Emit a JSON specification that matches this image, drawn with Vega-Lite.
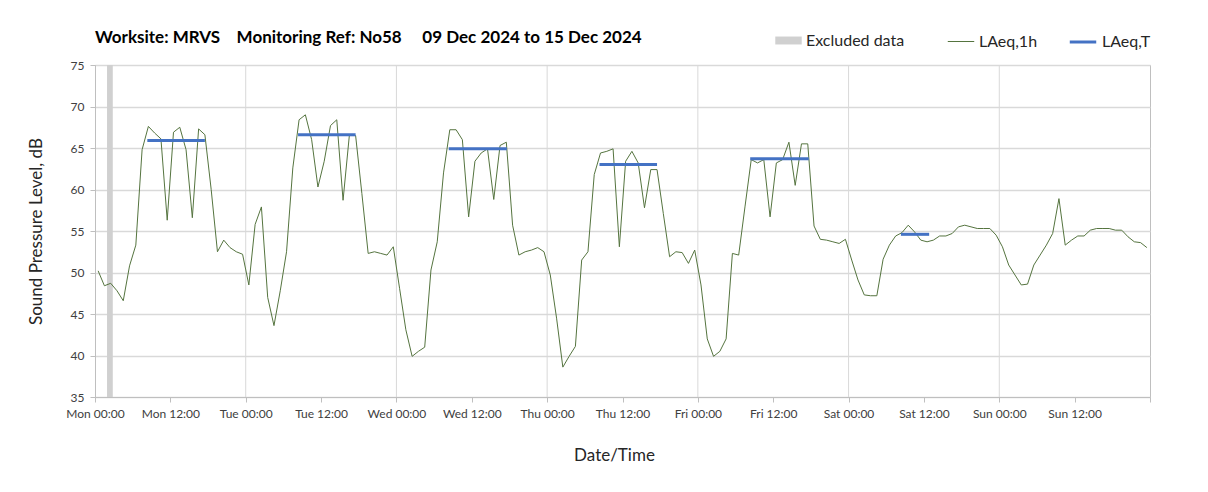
{
  "$schema": "https://vega.github.io/schema/vega-lite/v6.json",
  "width": 1055,
  "height": 332,
  "autosize": "none",
  "padding": {"left": 95, "top": 65, "right": 58, "bottom": 95},
  "background": "white",
  "title": {
    "text": "Worksite: MRVS\u00a0\u00a0\u00a0 Monitoring Ref: No58\u00a0\u00a0\u00a0\u00a0 09 Dec 2024 to 15 Dec 2024",
    "anchor": "start",
    "frame": "group",
    "fontSize": 17,
    "fontWeight": "bold",
    "color": "#000000",
    "offset": -20
  },
  "datasets": {
    "days": [
      {"d": "2024-12-10T00:00"}, {"d": "2024-12-11T00:00"}, {"d": "2024-12-12T00:00"},
      {"d": "2024-12-13T00:00"}, {"d": "2024-12-14T00:00"}, {"d": "2024-12-15T00:00"}
    ],
    "excluded": [
      {"start": "2024-12-09T01:55", "end": "2024-12-09T02:50", "series": "Excluded data"}
    ],
    "laeqT": [
      {"start": "2024-12-09T08:20", "end": "2024-12-09T17:30", "v": 65.9, "series": "LAeq,T"},
      {"start": "2024-12-10T08:20", "end": "2024-12-10T17:30", "v": 66.6, "series": "LAeq,T"},
      {"start": "2024-12-11T08:20", "end": "2024-12-11T17:35", "v": 64.9, "series": "LAeq,T"},
      {"start": "2024-12-12T08:20", "end": "2024-12-12T17:30", "v": 63.0, "series": "LAeq,T"},
      {"start": "2024-12-13T08:20", "end": "2024-12-13T17:40", "v": 63.7, "series": "LAeq,T"},
      {"start": "2024-12-14T08:20", "end": "2024-12-14T12:50", "v": 54.6, "series": "LAeq,T"}
    ],
    "laeq1h": [
      {"t": "2024-12-09T00:30", "v": 50.2, "series": "LAeq,1h"},
      {"t": "2024-12-09T01:30", "v": 48.4, "series": "LAeq,1h"},
      {"t": "2024-12-09T02:30", "v": 48.7, "series": "LAeq,1h"},
      {"t": "2024-12-09T03:30", "v": 47.8, "series": "LAeq,1h"},
      {"t": "2024-12-09T04:30", "v": 46.6, "series": "LAeq,1h"},
      {"t": "2024-12-09T05:30", "v": 50.8, "series": "LAeq,1h"},
      {"t": "2024-12-09T06:30", "v": 53.3, "series": "LAeq,1h"},
      {"t": "2024-12-09T07:30", "v": 64.8, "series": "LAeq,1h"},
      {"t": "2024-12-09T08:30", "v": 67.6, "series": "LAeq,1h"},
      {"t": "2024-12-09T09:30", "v": 66.8, "series": "LAeq,1h"},
      {"t": "2024-12-09T10:30", "v": 66.1, "series": "LAeq,1h"},
      {"t": "2024-12-09T11:30", "v": 56.3, "series": "LAeq,1h"},
      {"t": "2024-12-09T12:30", "v": 66.9, "series": "LAeq,1h"},
      {"t": "2024-12-09T13:30", "v": 67.5, "series": "LAeq,1h"},
      {"t": "2024-12-09T14:30", "v": 64.8, "series": "LAeq,1h"},
      {"t": "2024-12-09T15:30", "v": 56.6, "series": "LAeq,1h"},
      {"t": "2024-12-09T16:30", "v": 67.3, "series": "LAeq,1h"},
      {"t": "2024-12-09T17:30", "v": 66.6, "series": "LAeq,1h"},
      {"t": "2024-12-09T18:30", "v": 60.0, "series": "LAeq,1h"},
      {"t": "2024-12-09T19:30", "v": 52.5, "series": "LAeq,1h"},
      {"t": "2024-12-09T20:30", "v": 53.9, "series": "LAeq,1h"},
      {"t": "2024-12-09T21:30", "v": 53.0, "series": "LAeq,1h"},
      {"t": "2024-12-09T22:30", "v": 52.5, "series": "LAeq,1h"},
      {"t": "2024-12-09T23:30", "v": 52.2, "series": "LAeq,1h"},
      {"t": "2024-12-10T00:30", "v": 48.5, "series": "LAeq,1h"},
      {"t": "2024-12-10T01:30", "v": 55.8, "series": "LAeq,1h"},
      {"t": "2024-12-10T02:30", "v": 57.9, "series": "LAeq,1h"},
      {"t": "2024-12-10T03:30", "v": 47.0, "series": "LAeq,1h"},
      {"t": "2024-12-10T04:30", "v": 43.6, "series": "LAeq,1h"},
      {"t": "2024-12-10T05:30", "v": 47.8, "series": "LAeq,1h"},
      {"t": "2024-12-10T06:30", "v": 52.5, "series": "LAeq,1h"},
      {"t": "2024-12-10T07:30", "v": 62.6, "series": "LAeq,1h"},
      {"t": "2024-12-10T08:30", "v": 68.4, "series": "LAeq,1h"},
      {"t": "2024-12-10T09:30", "v": 69.0, "series": "LAeq,1h"},
      {"t": "2024-12-10T10:30", "v": 66.0, "series": "LAeq,1h"},
      {"t": "2024-12-10T11:30", "v": 60.3, "series": "LAeq,1h"},
      {"t": "2024-12-10T12:30", "v": 63.4, "series": "LAeq,1h"},
      {"t": "2024-12-10T13:30", "v": 67.7, "series": "LAeq,1h"},
      {"t": "2024-12-10T14:30", "v": 68.4, "series": "LAeq,1h"},
      {"t": "2024-12-10T15:30", "v": 58.7, "series": "LAeq,1h"},
      {"t": "2024-12-10T16:30", "v": 66.5, "series": "LAeq,1h"},
      {"t": "2024-12-10T17:30", "v": 66.5, "series": "LAeq,1h"},
      {"t": "2024-12-10T18:30", "v": 59.5, "series": "LAeq,1h"},
      {"t": "2024-12-10T19:30", "v": 52.3, "series": "LAeq,1h"},
      {"t": "2024-12-10T20:30", "v": 52.5, "series": "LAeq,1h"},
      {"t": "2024-12-10T21:30", "v": 52.3, "series": "LAeq,1h"},
      {"t": "2024-12-10T22:30", "v": 52.1, "series": "LAeq,1h"},
      {"t": "2024-12-10T23:30", "v": 53.1, "series": "LAeq,1h"},
      {"t": "2024-12-11T00:30", "v": 48.1, "series": "LAeq,1h"},
      {"t": "2024-12-11T01:30", "v": 43.1, "series": "LAeq,1h"},
      {"t": "2024-12-11T02:30", "v": 39.9, "series": "LAeq,1h"},
      {"t": "2024-12-11T03:30", "v": 40.5, "series": "LAeq,1h"},
      {"t": "2024-12-11T04:30", "v": 41.0, "series": "LAeq,1h"},
      {"t": "2024-12-11T05:30", "v": 50.3, "series": "LAeq,1h"},
      {"t": "2024-12-11T06:30", "v": 53.7, "series": "LAeq,1h"},
      {"t": "2024-12-11T07:30", "v": 62.0, "series": "LAeq,1h"},
      {"t": "2024-12-11T08:30", "v": 67.2, "series": "LAeq,1h"},
      {"t": "2024-12-11T09:30", "v": 67.2, "series": "LAeq,1h"},
      {"t": "2024-12-11T10:30", "v": 66.0, "series": "LAeq,1h"},
      {"t": "2024-12-11T11:30", "v": 56.7, "series": "LAeq,1h"},
      {"t": "2024-12-11T12:30", "v": 63.4, "series": "LAeq,1h"},
      {"t": "2024-12-11T13:30", "v": 64.4, "series": "LAeq,1h"},
      {"t": "2024-12-11T14:30", "v": 64.9, "series": "LAeq,1h"},
      {"t": "2024-12-11T15:30", "v": 58.8, "series": "LAeq,1h"},
      {"t": "2024-12-11T16:30", "v": 65.3, "series": "LAeq,1h"},
      {"t": "2024-12-11T17:30", "v": 65.7, "series": "LAeq,1h"},
      {"t": "2024-12-11T18:30", "v": 55.7, "series": "LAeq,1h"},
      {"t": "2024-12-11T19:30", "v": 52.1, "series": "LAeq,1h"},
      {"t": "2024-12-11T20:30", "v": 52.5, "series": "LAeq,1h"},
      {"t": "2024-12-11T21:30", "v": 52.7, "series": "LAeq,1h"},
      {"t": "2024-12-11T22:30", "v": 53.0, "series": "LAeq,1h"},
      {"t": "2024-12-11T23:30", "v": 52.5, "series": "LAeq,1h"},
      {"t": "2024-12-12T00:30", "v": 49.7, "series": "LAeq,1h"},
      {"t": "2024-12-12T01:30", "v": 44.5, "series": "LAeq,1h"},
      {"t": "2024-12-12T02:30", "v": 38.6, "series": "LAeq,1h"},
      {"t": "2024-12-12T03:30", "v": 39.9, "series": "LAeq,1h"},
      {"t": "2024-12-12T04:30", "v": 41.1, "series": "LAeq,1h"},
      {"t": "2024-12-12T05:30", "v": 51.5, "series": "LAeq,1h"},
      {"t": "2024-12-12T06:30", "v": 52.5, "series": "LAeq,1h"},
      {"t": "2024-12-12T07:30", "v": 61.8, "series": "LAeq,1h"},
      {"t": "2024-12-12T08:30", "v": 64.4, "series": "LAeq,1h"},
      {"t": "2024-12-12T09:30", "v": 64.6, "series": "LAeq,1h"},
      {"t": "2024-12-12T10:30", "v": 64.9, "series": "LAeq,1h"},
      {"t": "2024-12-12T11:30", "v": 53.1, "series": "LAeq,1h"},
      {"t": "2024-12-12T12:30", "v": 63.4, "series": "LAeq,1h"},
      {"t": "2024-12-12T13:30", "v": 64.6, "series": "LAeq,1h"},
      {"t": "2024-12-12T14:30", "v": 63.2, "series": "LAeq,1h"},
      {"t": "2024-12-12T15:30", "v": 57.8, "series": "LAeq,1h"},
      {"t": "2024-12-12T16:30", "v": 62.4, "series": "LAeq,1h"},
      {"t": "2024-12-12T17:30", "v": 62.4, "series": "LAeq,1h"},
      {"t": "2024-12-12T18:30", "v": 57.1, "series": "LAeq,1h"},
      {"t": "2024-12-12T19:30", "v": 51.9, "series": "LAeq,1h"},
      {"t": "2024-12-12T20:30", "v": 52.5, "series": "LAeq,1h"},
      {"t": "2024-12-12T21:30", "v": 52.4, "series": "LAeq,1h"},
      {"t": "2024-12-12T22:30", "v": 51.1, "series": "LAeq,1h"},
      {"t": "2024-12-12T23:30", "v": 52.7, "series": "LAeq,1h"},
      {"t": "2024-12-13T00:30", "v": 48.5, "series": "LAeq,1h"},
      {"t": "2024-12-13T01:30", "v": 42.0, "series": "LAeq,1h"},
      {"t": "2024-12-13T02:30", "v": 39.9, "series": "LAeq,1h"},
      {"t": "2024-12-13T03:30", "v": 40.5, "series": "LAeq,1h"},
      {"t": "2024-12-13T04:30", "v": 42.0, "series": "LAeq,1h"},
      {"t": "2024-12-13T05:30", "v": 52.3, "series": "LAeq,1h"},
      {"t": "2024-12-13T06:30", "v": 52.1, "series": "LAeq,1h"},
      {"t": "2024-12-13T07:30", "v": 57.9, "series": "LAeq,1h"},
      {"t": "2024-12-13T08:30", "v": 63.6, "series": "LAeq,1h"},
      {"t": "2024-12-13T09:30", "v": 63.2, "series": "LAeq,1h"},
      {"t": "2024-12-13T10:30", "v": 63.6, "series": "LAeq,1h"},
      {"t": "2024-12-13T11:30", "v": 56.7, "series": "LAeq,1h"},
      {"t": "2024-12-13T12:30", "v": 63.2, "series": "LAeq,1h"},
      {"t": "2024-12-13T13:30", "v": 63.6, "series": "LAeq,1h"},
      {"t": "2024-12-13T14:30", "v": 65.7, "series": "LAeq,1h"},
      {"t": "2024-12-13T15:30", "v": 60.5, "series": "LAeq,1h"},
      {"t": "2024-12-13T16:30", "v": 65.5, "series": "LAeq,1h"},
      {"t": "2024-12-13T17:30", "v": 65.5, "series": "LAeq,1h"},
      {"t": "2024-12-13T18:30", "v": 55.6, "series": "LAeq,1h"},
      {"t": "2024-12-13T19:30", "v": 54.0, "series": "LAeq,1h"},
      {"t": "2024-12-13T20:30", "v": 53.9, "series": "LAeq,1h"},
      {"t": "2024-12-13T21:30", "v": 53.7, "series": "LAeq,1h"},
      {"t": "2024-12-13T22:30", "v": 53.5, "series": "LAeq,1h"},
      {"t": "2024-12-13T23:30", "v": 54.0, "series": "LAeq,1h"},
      {"t": "2024-12-14T00:30", "v": 51.5, "series": "LAeq,1h"},
      {"t": "2024-12-14T01:30", "v": 49.1, "series": "LAeq,1h"},
      {"t": "2024-12-14T02:30", "v": 47.3, "series": "LAeq,1h"},
      {"t": "2024-12-14T03:30", "v": 47.2, "series": "LAeq,1h"},
      {"t": "2024-12-14T04:30", "v": 47.2, "series": "LAeq,1h"},
      {"t": "2024-12-14T05:30", "v": 51.6, "series": "LAeq,1h"},
      {"t": "2024-12-14T06:30", "v": 53.3, "series": "LAeq,1h"},
      {"t": "2024-12-14T07:30", "v": 54.4, "series": "LAeq,1h"},
      {"t": "2024-12-14T08:30", "v": 54.8, "series": "LAeq,1h"},
      {"t": "2024-12-14T09:30", "v": 55.7, "series": "LAeq,1h"},
      {"t": "2024-12-14T10:30", "v": 54.9, "series": "LAeq,1h"},
      {"t": "2024-12-14T11:30", "v": 53.9, "series": "LAeq,1h"},
      {"t": "2024-12-14T12:30", "v": 53.7, "series": "LAeq,1h"},
      {"t": "2024-12-14T13:30", "v": 53.9, "series": "LAeq,1h"},
      {"t": "2024-12-14T14:30", "v": 54.4, "series": "LAeq,1h"},
      {"t": "2024-12-14T15:30", "v": 54.4, "series": "LAeq,1h"},
      {"t": "2024-12-14T16:30", "v": 54.7, "series": "LAeq,1h"},
      {"t": "2024-12-14T17:30", "v": 55.5, "series": "LAeq,1h"},
      {"t": "2024-12-14T18:30", "v": 55.7, "series": "LAeq,1h"},
      {"t": "2024-12-14T19:30", "v": 55.5, "series": "LAeq,1h"},
      {"t": "2024-12-14T20:30", "v": 55.3, "series": "LAeq,1h"},
      {"t": "2024-12-14T21:30", "v": 55.3, "series": "LAeq,1h"},
      {"t": "2024-12-14T22:30", "v": 55.3, "series": "LAeq,1h"},
      {"t": "2024-12-14T23:30", "v": 54.5, "series": "LAeq,1h"},
      {"t": "2024-12-15T00:30", "v": 53.1, "series": "LAeq,1h"},
      {"t": "2024-12-15T01:30", "v": 50.9, "series": "LAeq,1h"},
      {"t": "2024-12-15T02:30", "v": 49.7, "series": "LAeq,1h"},
      {"t": "2024-12-15T03:30", "v": 48.5, "series": "LAeq,1h"},
      {"t": "2024-12-15T04:30", "v": 48.6, "series": "LAeq,1h"},
      {"t": "2024-12-15T05:30", "v": 50.9, "series": "LAeq,1h"},
      {"t": "2024-12-15T06:30", "v": 52.1, "series": "LAeq,1h"},
      {"t": "2024-12-15T07:30", "v": 53.3, "series": "LAeq,1h"},
      {"t": "2024-12-15T08:30", "v": 54.7, "series": "LAeq,1h"},
      {"t": "2024-12-15T09:30", "v": 58.9, "series": "LAeq,1h"},
      {"t": "2024-12-15T10:30", "v": 53.3, "series": "LAeq,1h"},
      {"t": "2024-12-15T11:30", "v": 53.9, "series": "LAeq,1h"},
      {"t": "2024-12-15T12:30", "v": 54.4, "series": "LAeq,1h"},
      {"t": "2024-12-15T13:30", "v": 54.4, "series": "LAeq,1h"},
      {"t": "2024-12-15T14:30", "v": 55.1, "series": "LAeq,1h"},
      {"t": "2024-12-15T15:30", "v": 55.3, "series": "LAeq,1h"},
      {"t": "2024-12-15T16:30", "v": 55.3, "series": "LAeq,1h"},
      {"t": "2024-12-15T17:30", "v": 55.3, "series": "LAeq,1h"},
      {"t": "2024-12-15T18:30", "v": 55.1, "series": "LAeq,1h"},
      {"t": "2024-12-15T19:30", "v": 55.1, "series": "LAeq,1h"},
      {"t": "2024-12-15T20:30", "v": 54.3, "series": "LAeq,1h"},
      {"t": "2024-12-15T21:30", "v": 53.7, "series": "LAeq,1h"},
      {"t": "2024-12-15T22:30", "v": 53.6, "series": "LAeq,1h"},
      {"t": "2024-12-15T23:30", "v": 53.0, "series": "LAeq,1h"}
    ]
  },
  "layer": [
    {
      "data": {"name": "days"},
      "mark": {"type": "rule", "color": "#d9d9d9", "strokeWidth": 1},
      "encoding": {
        "x": {
          "field": "d",
          "type": "temporal",
          "title": "Date/Time",
          "scale": {
            "domain": [
              {"year": 2024, "month": 12, "date": 9, "hours": 0},
              {"year": 2024, "month": 12, "date": 16, "hours": 0}
            ],
            "nice": false
          },
          "axis": {
            "values": [
              {"year": 2024, "month": 12, "date": 9, "hours": 0},
              {"year": 2024, "month": 12, "date": 9, "hours": 12},
              {"year": 2024, "month": 12, "date": 10, "hours": 0},
              {"year": 2024, "month": 12, "date": 10, "hours": 12},
              {"year": 2024, "month": 12, "date": 11, "hours": 0},
              {"year": 2024, "month": 12, "date": 11, "hours": 12},
              {"year": 2024, "month": 12, "date": 12, "hours": 0},
              {"year": 2024, "month": 12, "date": 12, "hours": 12},
              {"year": 2024, "month": 12, "date": 13, "hours": 0},
              {"year": 2024, "month": 12, "date": 13, "hours": 12},
              {"year": 2024, "month": 12, "date": 14, "hours": 0},
              {"year": 2024, "month": 12, "date": 14, "hours": 12},
              {"year": 2024, "month": 12, "date": 15, "hours": 0},
              {"year": 2024, "month": 12, "date": 15, "hours": 12},
              {"year": 2024, "month": 12, "date": 16, "hours": 0}
            ],
            "labelExpr": "datum.value >= datetime(2024, 11, 16) ? '' : timeFormat(datum.value, '%a %H:%M')",
            "grid": false,
            "domainColor": "#bfbfbf",
            "tickColor": "#bfbfbf",
            "tickSize": 5,
            "labelFontSize": 12,
            "labelColor": "#404040",
            "labelPadding": 6,
            "labelFlush": false,
            "labelOverlap": false,
            "titleFontSize": 17,
            "titleFontWeight": "normal",
            "titleColor": "#262626",
            "titleX": 519,
            "titleY": 50
          }
        }
      }
    },
    {
      "data": {"name": "excluded"},
      "mark": {"type": "rect"},
      "encoding": {
        "x": {"field": "start", "type": "temporal"},
        "x2": {"field": "end"},
        "fill": {
          "field": "series",
          "type": "nominal",
          "scale": {"domain": ["Excluded data"], "range": ["#d0d0d0"]},
          "legend": {
            "title": null,
            "orient": "none",
            "direction": "horizontal",
            "legendX": 680,
            "legendY": -38,
            "padding": 0,
            "symbolType": "M-1,-0.3H1V0.3H-1Z",
            "symbolSize": 700,
            "symbolStrokeWidth": 0,
            "labelFontSize": 16,
            "labelColor": "#262626",
            "labelOffset": 4
          }
        }
      }
    },
    {
      "data": {"name": "laeq1h"},
      "mark": {"type": "line"},
      "encoding": {
        "x": {"field": "t", "type": "temporal"},
        "y": {
          "field": "v",
          "type": "quantitative",
          "title": "Sound Pressure Level, dB",
          "scale": {"domain": [35, 75], "nice": false, "zero": false},
          "axis": {
            "values": [35, 40, 45, 50, 55, 60, 65, 70, 75],
            "grid": true,
            "gridColor": "#d9d9d9",
            "gridWidth": 1.3,
            "domainColor": "#bfbfbf",
            "tickColor": "#bfbfbf",
            "tickSize": 5,
            "labelFontSize": 12,
            "labelColor": "#404040",
            "labelPadding": 6,
            "labelFlush": false,
            "titleFontSize": 17,
            "titleFontWeight": "normal",
            "titleColor": "#262626",
            "titlePadding": 25
          }
        },
        "stroke": {
          "field": "series",
          "type": "nominal",
          "scale": {"domain": ["LAeq,1h", "LAeq,T"], "range": ["#55743f", "#4472c4"]},
          "legend": {
            "title": null,
            "orient": "none",
            "direction": "horizontal",
            "legendX": 852,
            "legendY": -38,
            "padding": 0,
            "symbolType": "stroke",
            "symbolSize": 700,
            "labelFontSize": 16,
            "labelColor": "#262626",
            "labelOffset": 4,
            "columnPadding": 25
          }
        },
        "strokeWidth": {
          "field": "series",
          "type": "ordinal",
          "scale": {"domain": ["LAeq,1h", "LAeq,T"], "range": [1, 3]}
        }
      }
    },
    {
      "data": {"name": "laeqT"},
      "mark": {"type": "rule", "strokeCap": "butt"},
      "encoding": {
        "x": {"field": "start", "type": "temporal"},
        "x2": {"field": "end"},
        "y": {"field": "v", "type": "quantitative"},
        "stroke": {"field": "series", "type": "nominal"},
        "strokeWidth": {"field": "series", "type": "ordinal"}
      }
    }
  ],
  "config": {
    "font": "Lato",
    "view": {"stroke": "#bfbfbf", "strokeWidth": 1}
  }
}
